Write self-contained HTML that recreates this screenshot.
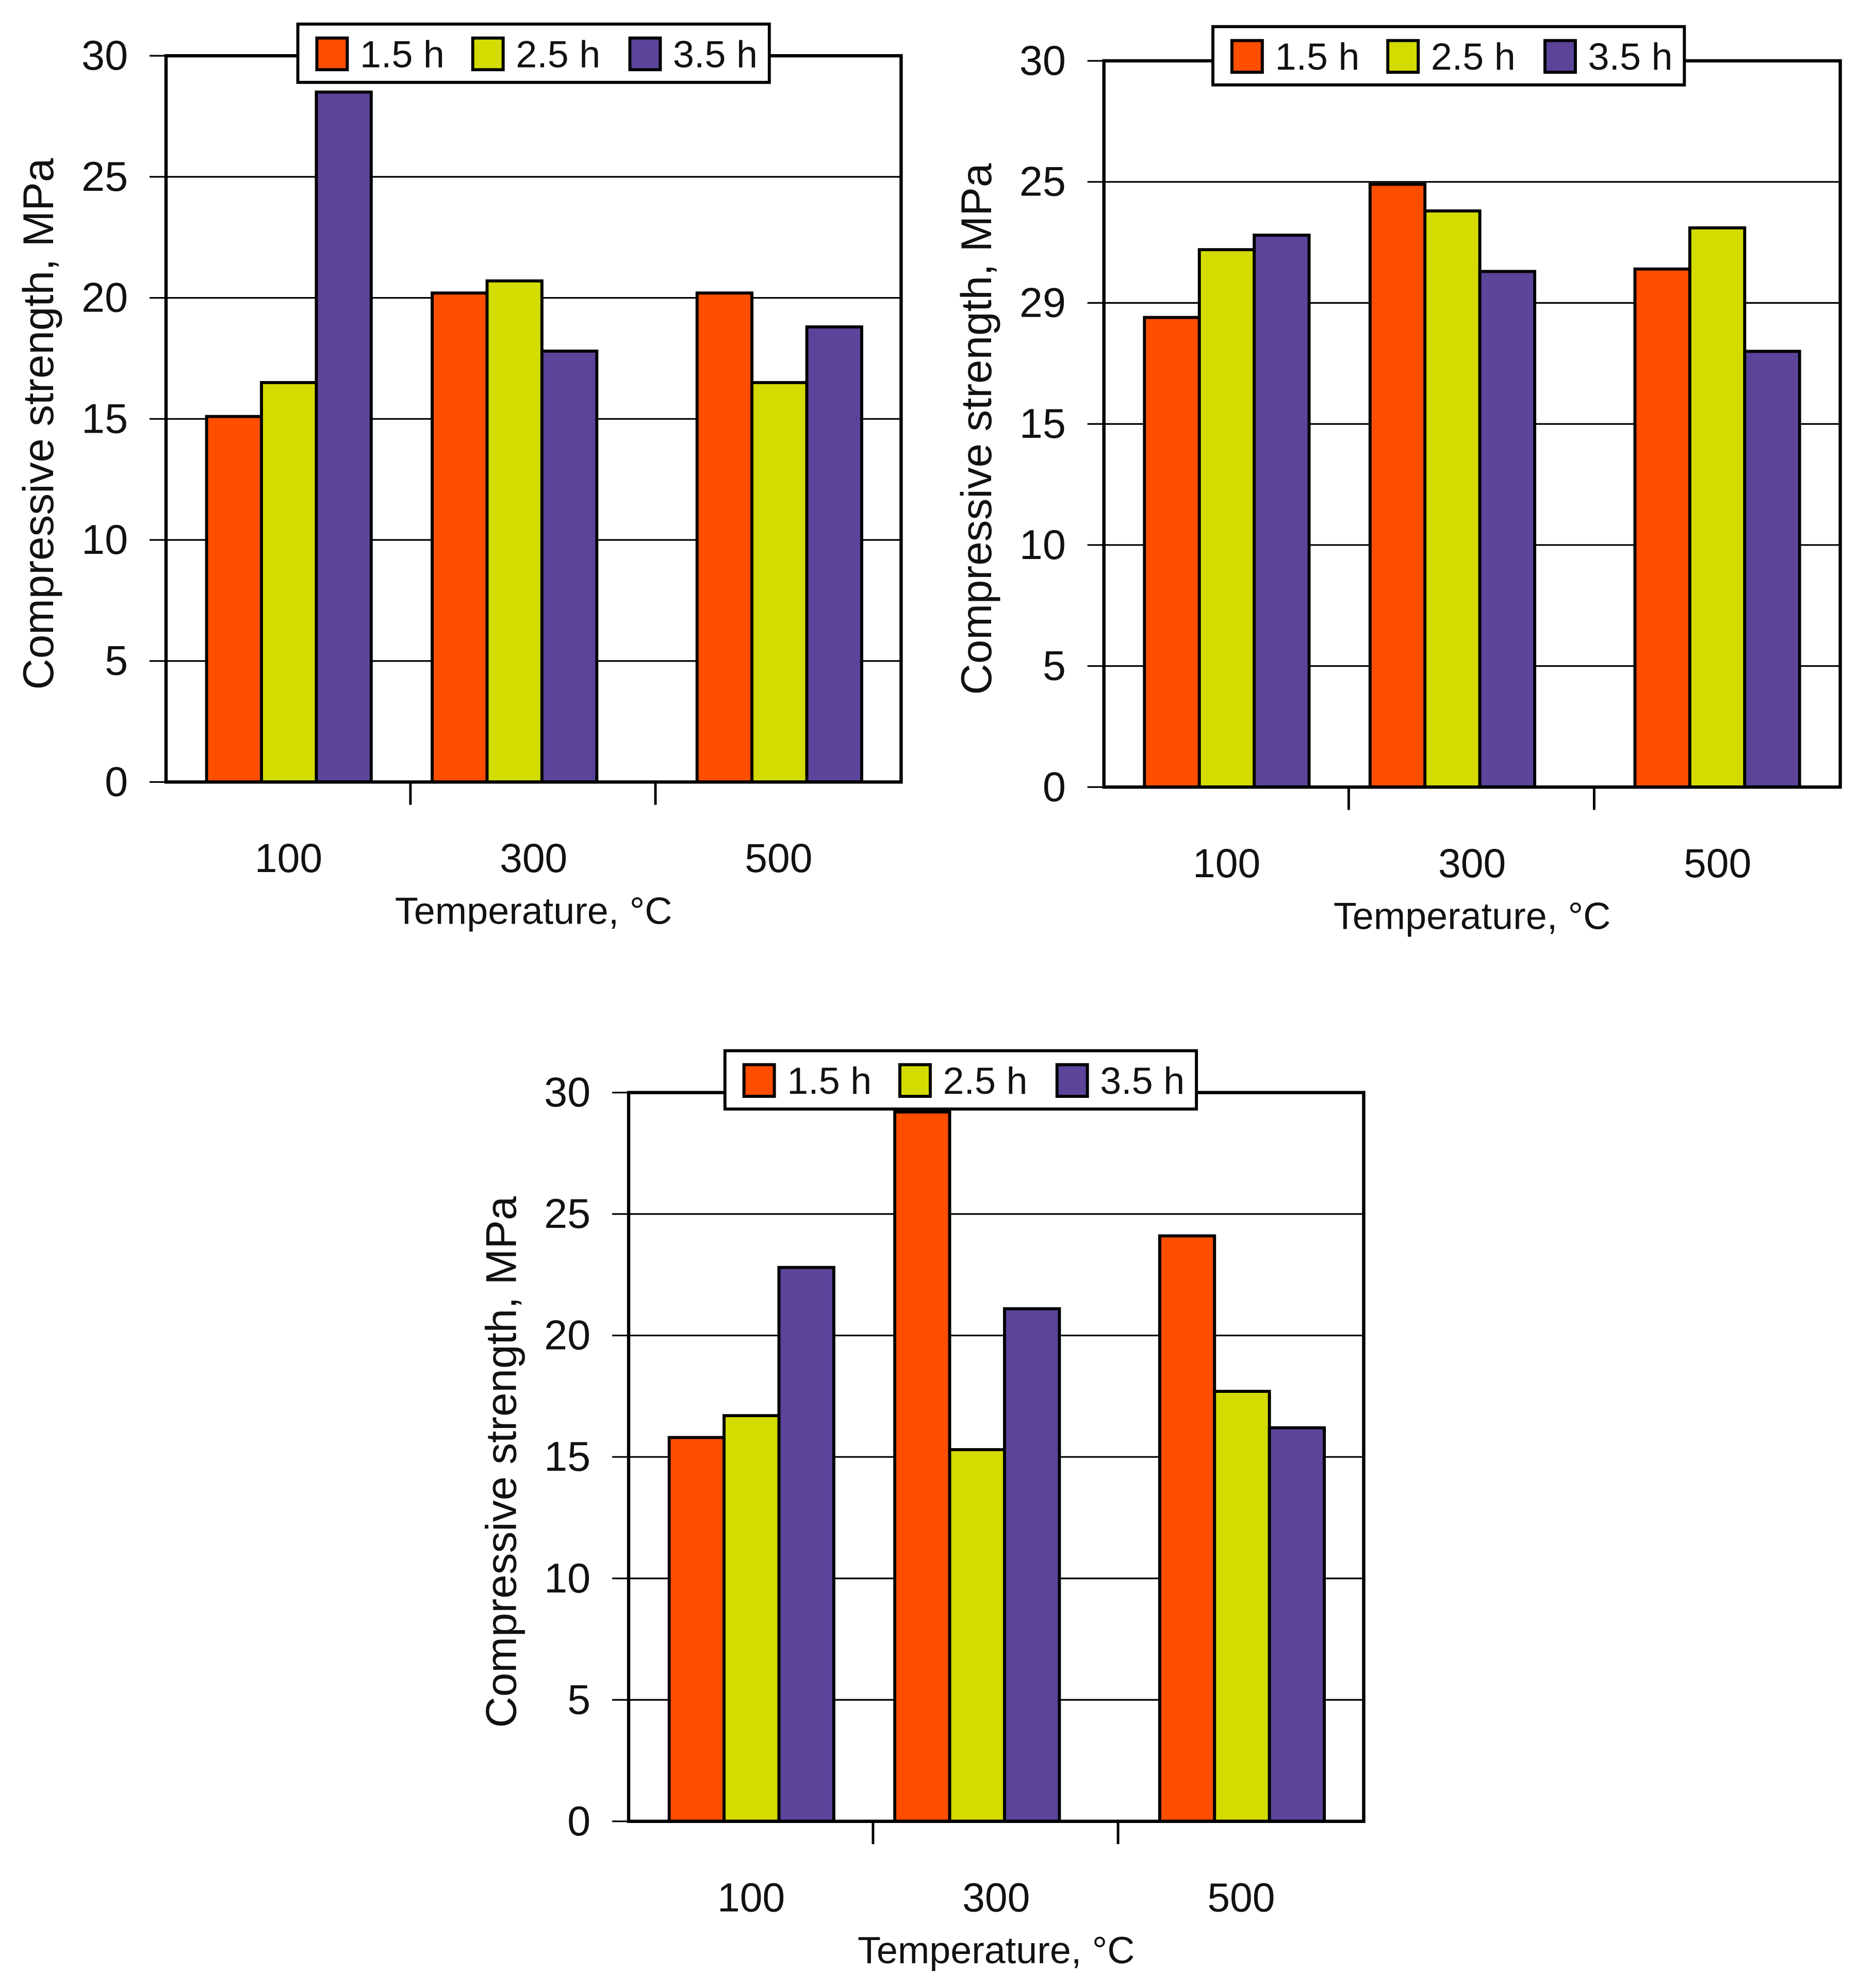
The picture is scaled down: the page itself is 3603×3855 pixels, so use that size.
<!DOCTYPE html>
<html><head><meta charset="utf-8"><style>
html,body{margin:0;padding:0;background:#fff;}
svg{display:block;}
text{font-family:"Liberation Sans",Arial,sans-serif;fill:#111;}
</style></head>
<body>
<svg id="fig" width="3603" height="3855" viewBox="0 0 1466 1568.5" preserveAspectRatio="none" xmlns="http://www.w3.org/2000/svg"></svg>
<script>
const categories = ["100", "300", "500"];
const seriesNames = ["1.5 h", "2.5 h", "3.5 h"];
const chartA_s1 = [15.1, 20.2, 20.2];
const chartA_s2 = [16.5, 20.7, 16.5];
const chartA_s3 = [28.5, 17.8, 18.8];
const chartB_s1 = [19.4, 24.9, 21.4];
const chartB_s2 = [22.2, 23.8, 23.1];
const chartB_s3 = [22.8, 21.3, 18.0];
const chartC_s1 = [15.8, 29.2, 24.1];
const chartC_s2 = [16.7, 15.3, 17.7];
const chartC_s3 = [22.8, 21.1, 16.2];
const tickValues = [0, 5, 10, 15, 20, 25, 30];
const tickLabelsA = ["0", "5", "10", "15", "20", "25", "30"];
const tickLabelsB = ["0", "5", "10", "15", "29", "25", "30"];
const tickLabelsC = ["0", "5", "10", "15", "20", "25", "30"];
const yMax = 30;

const colors = ["#FF4E00", "#D4DB00", "#5B4499"];
const groupOffsets = [32, 210, 419];
const NS = "http://www.w3.org/2000/svg";
const svg = document.getElementById("fig");
function mk(tag, attrs, parent, txt){
  const e = document.createElementNS(NS, tag);
  for (const k in attrs) e.setAttribute(k, attrs[k]);
  if (txt !== undefined) e.textContent = txt;
  parent.appendChild(e);
  return e;
}

function drawChart(id, L, R, T, B, series, tickLabels, legX, legY){
  const g = mk("g", {}, svg);
  
  
  const y = v => B - (v / yMax) * (B - T);
  const groupW = (R - L) / categories.length;
  const barW = 43.3;
  const x = (ci, si) => L + groupOffsets[ci] + si * barW;
  tickValues.forEach((v, i) => {
    const gl = mk("line", {x1: L - 13, x2: R, y1: y(v), y2: y(v), stroke: "#000", "stroke-width": 1.3}, g);
    
    
    const t = mk("text", {x: L - 30, y: y(v) + 11, "text-anchor": "end", "font-size": 33}, g, tickLabels[i]);
    
    
  });
  series.forEach((vals, si) => {
    vals.forEach((v, ci) => {
      const r = mk("rect", {x: x(ci, si), y: y(v), width: barW, height: B - y(v), fill: colors[si], stroke: "#000", "stroke-width": 2.4}, g);
      
      
    });
  });
  const fr = mk("rect", {x: L, y: T, width: R - L, height: B - T, fill: "none", stroke: "#000", "stroke-width": 2.6}, g);
  
  
  for (let i = 1; i < categories.length; i++) {
    const sx = L + i * groupW - 0.5;
    const s = mk("line", {x1: sx, x2: sx, y1: B, y2: B + 18, stroke: "#000", "stroke-width": 2}, g);
    
    
  }
  categories.forEach((c, ci) => {
    const t = mk("text", {x: L + (ci + 0.5) * groupW, y: B + 71, "text-anchor": "middle", "font-size": 32}, g, c);
    
    
  });
  const xt = mk("text", {x: L + 1.5 * groupW, y: B + 112, "text-anchor": "middle", "font-size": 30}, g, "Temperature, °C");
  
  
  const cy = (T + B) / 2 + 4;
  const yt = mk("text", {x: 0, y: 0, "text-anchor": "middle", "font-size": 34, transform: "translate(" + (L - 89) + "," + cy + ") rotate(-90)"}, g, "Compressive strength, MPa");
  
  
  const lg = mk("g", {}, g);
  
  
  const lb = mk("rect", {x: legX, y: legY, width: 372, height: 46, fill: "#fff", stroke: "#000", "stroke-width": 2.4}, lg);
  
  
  const offs = [15, 138, 262];
  seriesNames.forEach((n, si) => {
    const sw = mk("rect", {x: legX + offs[si], y: legY + 11, width: 24, height: 25, fill: colors[si], stroke: "#000", "stroke-width": 2.4}, lg);
    
    
    const t = mk("text", {x: legX + offs[si] + 34, y: legY + 34, "font-size": 30}, lg, n);
    
    
  });
}

drawChart("chart-top-left", 131, 711, 44, 617, [chartA_s1, chartA_s2, chartA_s3], tickLabelsA, 235, 19);
drawChart("chart-top-right", 871, 1452, 48, 621, [chartB_s1, chartB_s2, chartB_s3], tickLabelsB, 957, 21);
drawChart("chart-bottom", 496, 1076, 862, 1437, [chartC_s1, chartC_s2, chartC_s3], tickLabelsC, 572, 829);
</script>
</body></html>
